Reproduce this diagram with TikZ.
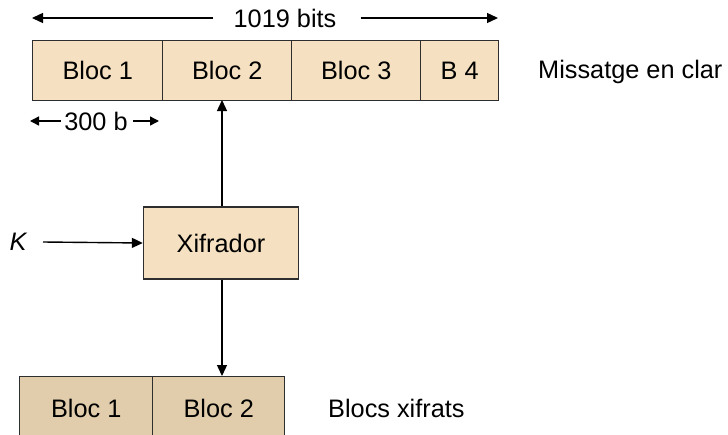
\documentclass[tikz,border=0pt]{standalone}
\usepackage{fontspec}
\setmainfont{Liberation Sans}
\usetikzlibrary{arrows.meta}
\definecolor{plainfill}{HTML}{F5E1C1}
\definecolor{cipherfill}{HTML}{E1CDAB}
\definecolor{edge}{HTML}{2E2E2E}
\begin{document}
\begin{tikzpicture}[x=1pt,y=-1pt,
  every node/.style={font=\fontsize{25.3}{30}\selectfont, text=black},
  blk/.style={draw=edge, line width=1.4pt, fill=plainfill, minimum height=60pt, inner sep=0pt, anchor=north west},
  cblk/.style={blk, fill=cipherfill, minimum height=64pt},
  arr/.style={draw=black, line width=1.4pt, -{Triangle[length=11pt,width=10pt]}},
  sarr/.style={arr, -{Triangle[length=9pt,width=9pt]}},
  lbl/.style={inner sep=0pt}
]
\useasboundingbox (0,0) rectangle (728,434);
\clip (0,0) rectangle (728,434);

% plain-text message split into blocks
\node[blk, minimum width=130pt] (p1) at (32,40) {Bloc 1};
\node[blk, minimum width=129pt] (p2) at (162,40) {Bloc 2};
\node[blk, minimum width=129pt] (p3) at (291,40) {Bloc 3};
\node[blk, minimum width=78pt] (p4) at (420,40) {B 4};
\node[lbl, anchor=west] (msg) at (538,72) {Missatge en clar};

% total length
\node[lbl] (bits) at (285,18) {1019 bits};
\coordinate (bl) at (32,18);
\coordinate (br) at (498,18);
\draw[arr] ([xshift=-20pt]bits.west) -- (bl);
\draw[arr] ([xshift=24pt]bits.east) -- (br);

% block length
\node[lbl] (bl300) at (96,121) {300 b};
\coordinate (sl) at (30,121);
\coordinate (sr) at (159,121);
\draw[sarr] ([xshift=-3pt]bl300.west) -- (sl);
\draw[sarr] ([xshift=5pt]bl300.east) -- (sr);

% cipher
\node[blk, anchor=center, minimum width=155pt, minimum height=72pt] (enc) at (221,243) {Xifrador};
\node[lbl] (k) at (18,242) {\itshape K};
\coordinate (kin) at (43,242);
\draw[arr] (kin) -- (enc.west);
\draw[arr] (enc.north -| 222,0) -- (222,100);

% cipher-text blocks
\node[cblk, minimum width=133pt] (c1) at (19,376) {Bloc 1};
\node[cblk, minimum width=132pt] (c2) at (152,376) {Bloc 2};
\node[lbl, anchor=west] (ct) at (328,408) {Blocs xifrats};
\draw[arr] (enc.south -| 222,0) -- (c2.north -| 222,0);
\end{tikzpicture}
\end{document}
